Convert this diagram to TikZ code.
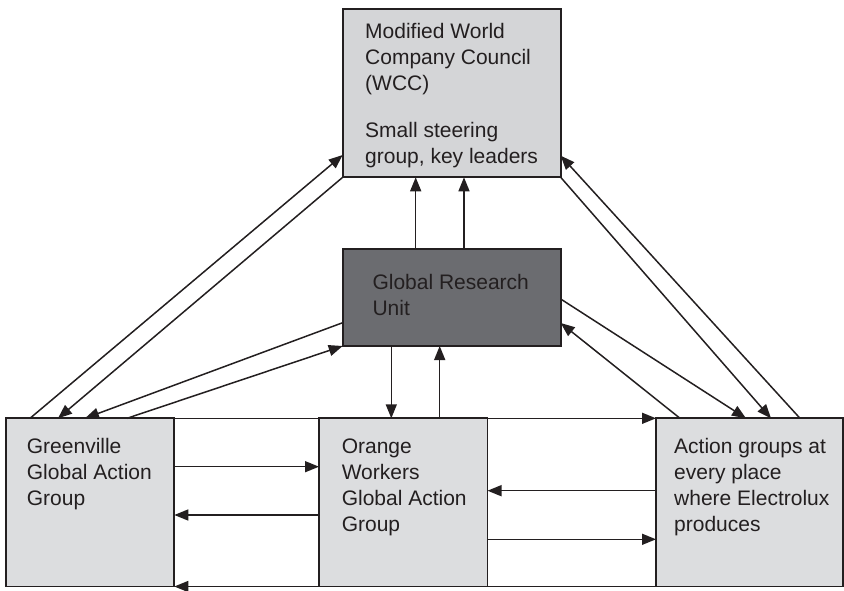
\documentclass[tikz,border=0pt]{standalone}
\usepackage{fontspec}
\setmainfont{Liberation Sans}
\usetikzlibrary{arrows.meta}
\definecolor{boxlight}{HTML}{D4D5D7}
\definecolor{boxpale}{HTML}{DCDDDF}
\definecolor{boxdark}{HTML}{6B6C70}
\definecolor{ink}{HTML}{231F20}
\tikzset{
  box/.style={draw=ink, line width=1.8pt, inner sep=0pt, outer sep=0pt, anchor=north west},
  label/.style={anchor=base west, align=left, inner sep=0pt, text=ink,
    font=\fontsize{21}{26}\selectfont},
  arr/.style={draw=ink, line width=1.5pt, -{Triangle[length=14pt,width=11pt]}},
}
\begin{document}
\begin{tikzpicture}[x=1pt,y=-1pt]
\useasboundingbox (0,0) rectangle (844,591);
% boxes
\node[box, fill=boxlight, minimum width=218pt, minimum height=168.3pt] (wcc) at (342.7,9) {};
\node[box, fill=boxdark, minimum width=218pt, minimum height=96.7pt] (gru) at (342.7,249.3) {};
\node[box, fill=boxpale, minimum width=168.6pt, minimum height=168.2pt] (gre) at (5.7,418.3) {};
\node[box, fill=boxpale, minimum width=168.5pt, minimum height=168.2pt] (ora) at (319,418.3) {};
\node[box, fill=boxpale, minimum width=187pt, minimum height=168.2pt] (act) at (656,418.3) {};
% texts (anchored at the baseline of the last line)
\node[label] (wcct) at (365,163.5) {Modified World\\Company Council\\(WCC)\\[21pt]Small steering\\group, key leaders};
\node[label] (grut) at (372.3,315) {Global Research\\Unit};
\node[label] (gret) at (26.7,505) {Greenville\\Global Action\\Group};
\node[label] (orat) at (341.6,531) {Orange\\Workers\\Global Action\\Group};
\node[label] (actt) at (674,531) {Action groups at\\every place\\where Electrolux\\produces};
% GRU <-> WCC
\draw[arr] ([xshift=73pt]gru.north west) -- ([xshift=73pt]wcc.south west);
\draw[arr] ([xshift=121.3pt]gru.north west) -- ([xshift=121.3pt]wcc.south west);
% GRU <-> Orange
\draw[arr] ([xshift=48.6pt]gru.south west) -- ([xshift=72.3pt]ora.north west);
\draw[arr] ([xshift=120.7pt]ora.north west) -- ([xshift=97pt]gru.south west);
% left diagonals
\draw[arr] ([xshift=24.3pt]gre.north west) -- ([yshift=22.3pt]wcc.south west);
\draw[arr] (wcc.south west) -- ([xshift=52.3pt]gre.north west);
\draw[arr] ([yshift=23.3pt]gru.south west) -- ([xshift=79.3pt]gre.north west);
\draw[arr] ([xshift=121.3pt]gre.north west) -- (gru.south west);
% right diagonals
\draw[arr] (wcc.south east) -- ([xshift=115pt]act.north west);
\draw[arr] ([yshift=47pt]gru.south east) -- ([xshift=90pt]act.north west);
\draw[arr] ([xshift=144pt]act.north west) -- ([yshift=21.6pt]wcc.south east);
\draw[arr] ([xshift=24pt]act.north west) -- ([yshift=23pt]gru.south east);
% horizontal
\draw[arr] ([yshift=-48.4pt]gre.north east) -- ([yshift=-48.4pt]ora.north west);
\draw[arr] ([yshift=-96.7pt]ora.north west) -- ([yshift=-96.7pt]gre.north east);
\draw[arr] ([yshift=-72.4pt]act.north west) -- ([yshift=-72.4pt]ora.north east);
\draw[arr] ([yshift=-121pt]ora.north east) -- ([yshift=-121pt]act.north west);
\draw[arr] (gre.north east) -- (act.north west);
\draw[arr] (act.south west) -- (gre.south east);
\end{tikzpicture}
\end{document}
